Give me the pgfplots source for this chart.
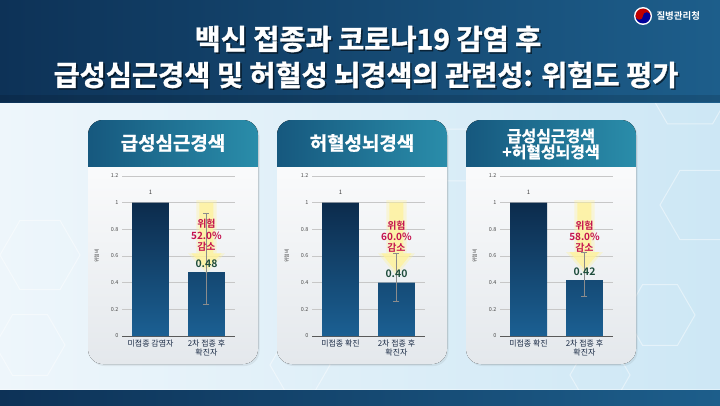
\documentclass[border=0pt]{standalone}
\usepackage{fontspec}
\setmainfont{Noto Sans CJK KR}[BoldFont={Noto Sans CJK KR Bold}]
\newfontfamily\heavy{Noto Sans CJK KR Bold}[FakeBold=1.3]
\usepackage{pgfplots}
\pgfplotsset{compat=1.18}
\definecolor{bgL}{HTML}{EEF6FB}
\definecolor{bgR}{HTML}{CDE7F5}
\definecolor{hdL}{HTML}{0D3257}
\definecolor{hdR}{HTML}{1D5E8B}
\definecolor{chL}{HTML}{16587E}
\definecolor{chR}{HTML}{2A8DAA}
\definecolor{cardBot}{HTML}{E4E8EC}
\definecolor{barTop}{HTML}{0C2B4C}
\definecolor{barBot}{HTML}{1B6093}
\definecolor{navytxt}{HTML}{1A2B45}
\definecolor{riskred}{HTML}{C4124E}
\definecolor{valgreen}{HTML}{1F4D3C}
\definecolor{glow}{HTML}{FFF29A}
\pgfplotsset{
  panel/.style={
    anchor=south west, scale only axis, width=113bp, height=160bp,
    xmin=-0.51, xmax=1.51, ymin=0, ymax=1.2,
    axis line style={draw=none}, major tick length=0pt,
    ytick={0,0.2,0.4,0.6,0.8,1,1.2}, yticklabels={0,0.2,0.4,0.6,0.8,1,1.2},
    ymajorgrids, grid style={draw=black!22, line width=0.6bp},
    extra y ticks={0}, extra y tick labels={},
    extra y tick style={grid style={draw=black!65, line width=0.9bp}},
    xtick={0,1},
    yticklabel style={font=\fontsize{5.5}{6}\selectfont, text=black!70},
    xticklabel style={font=\fontsize{8}{9.5}\selectfont, text=navytxt, align=center},
    ylabel={위험비}, ylabel shift=5bp, ylabel style={font=\fontsize{5}{5}\selectfont, text=black!70},
    clip=false,
  },
  barsty/.style={ybar, bar width=0.66, draw=none, top color=barTop, bottom color=barBot},
  errsty/.style={draw=none, mark=none, forget plot,
    error bars/.cd, y dir=both, y explicit,
    error bar style={black!45, line width=0.6bp},
    error mark options={rotate=90, black!45, mark size=3bp, line width=0.6bp}},
}
\newcommand\glowarrow[3]{% top, headbase, tip
  \fill[glow, opacity=0.35] (axis cs:0.82,#1+0.02) -- (axis cs:1.18,#1+0.02) -- (axis cs:1.18,#2) -- (axis cs:1.33,#2) -- (axis cs:1,#3-0.03) -- (axis cs:0.67,#2) -- (axis cs:0.82,#2) -- cycle;
  \fill[glow, opacity=0.75] (axis cs:0.875,#1) -- (axis cs:1.125,#1) -- (axis cs:1.125,#2) -- (axis cs:1.27,#2) -- (axis cs:1,#3) -- (axis cs:0.73,#2) -- (axis cs:0.875,#2) -- cycle;
}
\newcommand\card[4]{% left x, title, size, ycenter
  \fill[black, opacity=0.06, rounded corners=15bp] (#1+1.5,39) rectangle (#1+171.5,284);
  \fill[top color=white, bottom color=cardBot, rounded corners=15bp] (#1,41) rectangle (#1+170,285);
  \begin{scope}
    \clip[rounded corners=15bp] (#1,41) rectangle (#1+170,285);
    \fill[left color=chL, right color=chR] (#1,239) rectangle (#1+170,285);
  \end{scope}
  \node[text=white, font=\fontsize{#3}{#3}\heavy, align=center] at (#1+85,#4) {#2};
}
\begin{document}
\begin{tikzpicture}[x=1bp,y=1bp]
\useasboundingbox (0,0) rectangle (720,405);
% background
\fill[left color=bgL, right color=bgR] (0,0) rectangle (720,405);
\begin{scope}
\clip (0,0) rectangle (720,405);
\begin{scope}[white, opacity=0.45, line width=1bp]
\foreach \cx/\cy/\r in {40/150/40, 30/60/35, 690/320/45, 700/200/40, 660/90/35, 300/40/30, 460/250/30, 600/30/30}{
  \draw (\cx,\cy) +(0:\r) -- +(60:\r) -- +(120:\r) -- +(180:\r) -- +(240:\r) -- +(300:\r) -- cycle;
}
\end{scope}
\end{scope}
% header
\fill[left color=hdL, right color=hdR] (0,303) rectangle (720,405);
\fill[black, opacity=0.12] (0,303) rectangle (720,310);
\node[text=black, opacity=0.5, font=\fontsize{28.5}{32}\heavy] at (369.5,364.5) {백신 접종과 코로나19 감염 후};
\node[text=white, font=\fontsize{28.5}{32}\heavy] at (368,366) {백신 접종과 코로나19 감염 후};
\node[text=black, opacity=0.5, font=\fontsize{28.5}{32}\heavy] at (367.5,328.5) {급성심근경색 및 허혈성 뇌경색의 관련성: 위험도 평가};
\node[text=white, font=\fontsize{28.5}{32}\heavy] at (366,330) {급성심근경색 및 허혈성 뇌경색의 관련성: 위험도 평가};
% logo
\fill[white] (643,389) circle (9bp);
\fill[red!75!black] (643,389) ++(180:7.5bp) arc (180:0:7.5bp) -- cycle;
\fill[blue!60!black] (643,389) ++(0:7.5bp) arc (0:-180:7.5bp) -- cycle;
\fill[red!75!black] (639.25,389) circle (3.75bp);
\fill[blue!60!black] (646.75,389) circle (3.75bp);
\node[text=white, font=\fontsize{9.5}{10}\selectfont\bfseries, anchor=west] at (653,389) {질병관리청};
% bottom band
\fill[left color=hdL, right color=hdR] (0,0) rectangle (720,15);
\fill[white, opacity=0.4] (0,15) rectangle (720,16);
% cards
\card{88}{급성심근경색}{19}{262}
\card{277}{허혈성뇌경색}{19}{262}
\card{466}{급성심근경색\\+허혈성뇌경색}{16}{261}

% panel 1
\begin{axis}[panel, at={(122bp,69bp)}, xticklabels={미접종 감염자, 2차 접종 후\\확진자}]
\addplot[barsty] coordinates {(0,1) (1,0.48)};
\glowarrow{1.0}{0.62}{0.5}
\addplot[errsty] coordinates {(1,0.48) += (0,0.44) -= (0,0.24)};
\node[font=\fontsize{6}{6}\selectfont, text=black!75] at (axis cs:0,1.08) {1};
\node[font=\fontsize{10}{11.5}\selectfont\bfseries, text=riskred, align=center] at (axis cs:1,0.755) {위험\\52.0\%\\감소};
\node[font=\fontsize{10.5}{11}\selectfont\bfseries, text=valgreen] at (axis cs:1,0.54) {0.48};
\end{axis}

% panel 2
\begin{axis}[panel, at={(312bp,69bp)}, xticklabels={미접종 확진, 2차 접종 후\\확진자}]
\addplot[barsty] coordinates {(0,1) (1,0.40)};
\glowarrow{1.0}{0.62}{0.48}
\addplot[errsty] coordinates {(1,0.40) += (0,0.22) -= (0,0.14)};
\node[font=\fontsize{6}{6}\selectfont, text=black!75] at (axis cs:0,1.08) {1};
\node[font=\fontsize{10}{11.5}\selectfont\bfseries, text=riskred, align=center] at (axis cs:1,0.745) {위험\\60.0\%\\감소};
\node[font=\fontsize{10.5}{11}\selectfont\bfseries, text=valgreen] at (axis cs:1,0.47) {0.40};
\end{axis}

% panel 3
\begin{axis}[panel, at={(500bp,69bp)}, xticklabels={미접종 확진, 2차 접종 후\\확진자}]
\addplot[barsty] coordinates {(0,1) (1,0.42)};
\glowarrow{1.0}{0.63}{0.5}
\addplot[errsty] coordinates {(1,0.42) += (0,0.21) -= (0,0.12)};
\node[font=\fontsize{6}{6}\selectfont, text=black!75] at (axis cs:0,1.08) {1};
\node[font=\fontsize{10}{11.5}\selectfont\bfseries, text=riskred, align=center] at (axis cs:1,0.745) {위험\\58.0\%\\감소};
\node[font=\fontsize{10.5}{11}\selectfont\bfseries, text=valgreen] at (axis cs:1,0.48) {0.42};
\end{axis}
\end{tikzpicture}
\end{document}
